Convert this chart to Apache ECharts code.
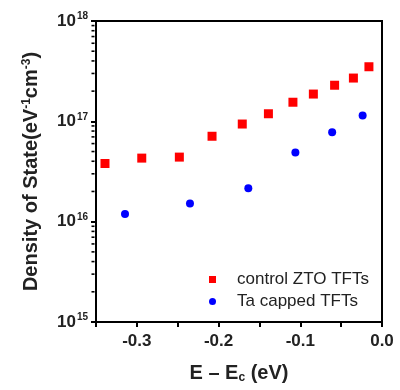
<!DOCTYPE html>
<html><head><meta charset="utf-8">
<script src="https://cdn.jsdelivr.net/npm/echarts@6/dist/echarts.min.js"></script>
<style>html,body{margin:0;padding:0;background:#fff}#c{width:400px;height:390px}</style>
</head><body><div id="c"></div>
<script>
var controlE = [-0.339, -0.294, -0.248, -0.208, -0.171, -0.139, -0.109, -0.084, -0.058, -0.035, -0.016];
var controlD = [3.8e16, 4.3e16, 4.4e16, 7.1e16, 9.4e16, 1.19e17, 1.55e17, 1.87e17, 2.29e17, 2.7e17, 3.5e17];
var taE = [-0.3145, -0.235, -0.1636, -0.106, -0.061, -0.0237];
var taD = [1.19e16, 1.52e16, 2.15e16, 4.9e16, 7.8e16, 1.14e17];
var seriesNames = ['control ZTO TFTs', 'Ta capped TFTs'];
var xTicks = [-0.3, -0.2, -0.1, 0.0];
var yMinorTicks = [2e15, 3e15, 4e15, 5e15, 6e15, 7e15, 8e15, 9e15,
                   2e16, 3e16, 4e16, 5e16, 6e16, 7e16, 8e16, 9e16,
                   2e17, 3e17, 4e17, 5e17, 6e17, 7e17, 8e17, 9e17];

var chart = echarts.init(document.getElementById('c'));
var font = 'Liberation Sans, Arial, sans-serif';
var X_MIN = -0.35;
function zip(a, b) { return a.map(function (v, i) { return [v, b[i]]; }); }
chart.setOption({
  animation: false,
  grid: { left: 96, right: 18, top: 21, bottom: 68, show: true, borderColor: '#000', borderWidth: 2, backgroundColor: 'transparent' },
  legend: {
    left: 204, top: 266, orient: 'vertical', itemGap: 5, itemWidth: 7, itemHeight: 7,
    textStyle: { fontFamily: font, fontSize: 17, color: '#222', padding: [0, 0, 0, 16] },
    data: [{ name: seriesNames[0], icon: 'rect' }, { name: seriesNames[1], icon: 'circle' }]
  },
  xAxis: {
    type: 'value', min: X_MIN, max: 0, interval: 0.05,
    axisLine: { onZero: false, lineStyle: { color: '#000', width: 2 } },
    axisTick: { length: 5, lineStyle: { color: '#000', width: 2 } },
    splitLine: { show: false },
    axisLabel: {
      fontFamily: font, fontSize: 17, fontWeight: 'bold', color: '#222', margin: 11,
      formatter: function (v) {
        for (var i = 0; i < xTicks.length; i++) if (Math.abs(v - xTicks[i]) < 1e-6) return xTicks[i].toFixed(1);
        return '';
      }
    },
    name: '{n|E – E}{s|c}{n| (eV)}', nameLocation: 'middle', nameGap: 41,
    nameTextStyle: { rich: {
      n: { fontFamily: font, fontSize: 20, fontWeight: 'bold', color: '#222' },
      s: { fontFamily: font, fontSize: 12, fontWeight: 'bold', color: '#222', verticalAlign: 'bottom', padding: [9, 0, 0, 0] }
    } }
  },
  yAxis: {
    type: 'log', logBase: 10, min: 1e15, max: 1e18,
    axisLine: { onZero: false, lineStyle: { color: '#000', width: 2 } },
    axisTick: { length: 5, lineStyle: { color: '#000', width: 2 } },
    splitLine: { show: false },
    axisLabel: {
      margin: 8,
      formatter: function (v) { return '{b|10}{s|' + Math.round(Math.log10(v)) + '}'; },
      rich: {
        b: { fontFamily: font, fontSize: 17, fontWeight: 'bold', color: '#222' },
        s: { fontFamily: font, fontSize: 10, fontWeight: 'bold', color: '#222', verticalAlign: 'top', padding: [0, 0, 9, 1] }
      }
    },
    name: '{n|Density of State(eV}{s|-1}{n|cm}{s|-3}{n|)}', nameLocation: 'middle', nameGap: 54,
    nameTextStyle: { rich: {
      n: { fontFamily: font, fontSize: 20, fontWeight: 'bold', color: '#222' },
      s: { fontFamily: font, fontSize: 12, fontWeight: 'bold', color: '#222', verticalAlign: 'top', padding: [0, 0, 9, 0] }
    } }
  },
  series: [
    { name: seriesNames[0], type: 'scatter', symbol: 'rect', symbolSize: 9, itemStyle: { color: '#ff0000', opacity: 1 }, data: zip(controlE, controlD) },
    { name: seriesNames[1], type: 'scatter', symbol: 'circle', symbolSize: 8, itemStyle: { color: '#0000ff', opacity: 1 }, data: zip(taE, taD) },
    {
      name: 'minorTicks', type: 'scatter', silent: true, clip: false,
      symbol: 'rect', symbolSize: [3, 1.6], symbolOffset: [-3, 0],
      itemStyle: { color: '#000', opacity: 1 },
      data: yMinorTicks.map(function (v) { return [X_MIN, v]; })
    }
  ]
});
</script></body></html>
